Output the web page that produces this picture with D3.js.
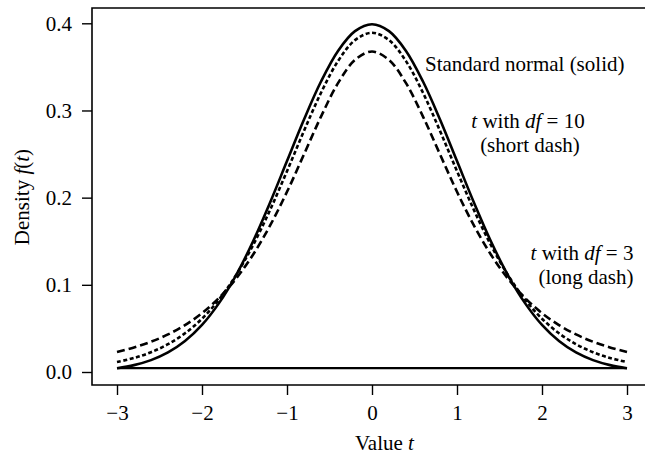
<!DOCTYPE html>
<html>
<head>
<meta charset="utf-8">
<script src="https://cdn.jsdelivr.net/npm/d3@7"></script>
<style>
    body { margin: 0; background: #fff; }
    svg text { font-family: "Liberation Serif", "Times New Roman", serif; fill: #000; }
</style>
</head>
<body>
<div id="density-graphic"></div>
<script>

/*********** DONNEES ***********/

let valeursT = [-3, -2.8, -2.6, -2.4, -2.2, -2, -1.8, -1.6, -1.4, -1.2, -1, -0.8, -0.6, -0.4, -0.2, 0,
    0.2, 0.4, 0.6, 0.8, 1, 1.2, 1.4, 1.6, 1.8, 2, 2.2, 2.4, 2.6, 2.8, 3]

// densite normale standard (trait plein)
let densiteNormale = [0.0044, 0.0079, 0.0136, 0.0224, 0.0355, 0.0540, 0.0790, 0.1109, 0.1497, 0.1942, 0.2420, 0.2897, 0.3332, 0.3683, 0.3910, 0.3989,
    0.3910, 0.3683, 0.3332, 0.2897, 0.2420, 0.1942, 0.1497, 0.1109, 0.0790, 0.0540, 0.0355, 0.0224, 0.0136, 0.0079, 0.0044]

// t avec df = 10 (tirets courts)
let densiteT10 = [0.0114, 0.0161, 0.0227, 0.0319, 0.0444, 0.0611, 0.0831, 0.1111, 0.1454, 0.1857, 0.2304, 0.2766, 0.3203, 0.3566, 0.3807, 0.3891,
    0.3807, 0.3566, 0.3203, 0.2766, 0.2304, 0.1857, 0.1454, 0.1111, 0.0831, 0.0611, 0.0444, 0.0319, 0.0227, 0.0161, 0.0114]

// t avec df = 3 (tirets longs)
let densiteT3 = [0.0230, 0.0282, 0.0347, 0.0431, 0.0538, 0.0675, 0.0850, 0.1070, 0.1345, 0.1678, 0.2067, 0.2497, 0.2930, 0.3313, 0.3580, 0.3676,
    0.3580, 0.3313, 0.2930, 0.2497, 0.2067, 0.1678, 0.1345, 0.1070, 0.0850, 0.0675, 0.0538, 0.0431, 0.0347, 0.0282, 0.0230]

// ligne horizontale du bas
let ligneBas = [{ t: -3, f: 0.0044 }, { t: 3, f: 0.0044 }]

let ticksX = [-3, -2, -1, 0, 1, 2, 3]
let labelsX = ["\u22123", "\u22122", "\u22121", "0", "1", "2", "3"]
let ticksY = [0, 0.1, 0.2, 0.3, 0.4]
let labelsY = ["0.0", "0.1", "0.2", "0.3", "0.4"]


/*********** GRAPHIQUE ***********/

let width = 645, height = 455
let taillePolice = "21px"

let svg = d3.select("#density-graphic")
    .append("svg")
    .attr("width", width)
    .attr("height", height)

var x = d3.scaleLinear().domain([-3, 3]).range([117, 627])
var y = d3.scaleLinear().domain([0, 0.4]).range([372, 23.3])

// cadre (le cote droit sort de l'image)
let cadreGauche = 92, cadreHaut = 8, cadreBas = 385
svg.append("path")
    .attr("d", "M" + width + "," + cadreHaut + "H" + cadreGauche + "V" + cadreBas + "H" + width)
    .attr("fill", "none")
    .attr("stroke", "#000")
    .attr("stroke-width", 1.6)

// axe X
let axeX = svg.append("g")
    .attr("transform", "translate(0," + cadreBas + ")")
    .call(d3.axisBottom(x).tickValues(ticksX).tickSize(10).tickPadding(10)
        .tickFormat(function (d, i) { return labelsX[i] }))
axeX.select(".domain").remove()

// axe Y
let axeY = svg.append("g")
    .attr("transform", "translate(" + cadreGauche + ",0)")
    .call(d3.axisLeft(y).tickValues(ticksY).tickSize(10).tickPadding(10)
        .tickFormat(function (d, i) { return labelsY[i] }))
axeY.select(".domain").remove()

svg.selectAll(".tick line").attr("stroke", "#000").attr("stroke-width", 1.4)
svg.selectAll(".tick text").style("font-size", taillePolice).attr("fill", "#000")

// titres des axes
svg.append("text")
    .attr("x", 355)
    .attr("y", 450)
    .attr("text-anchor", "start")
    .style("font-size", taillePolice)
    .html('Value <tspan font-style="italic">t</tspan>')

svg.append("text")
    .attr("transform", "translate(29,197) rotate(-90)")
    .attr("text-anchor", "middle")
    .style("font-size", taillePolice)
    .html('Density <tspan font-style="italic">f</tspan>(<tspan font-style="italic">t</tspan>)')

// courbes
function tracerCourbe(valeurs, dash) {
    let points = valeursT.map(function (t, i) { return { t: t, f: valeurs[i] } })
    let ligne = d3.line()
        .x(function (d) { return x(d.t) })
        .y(function (d) { return y(d.f) })
        .curve(d3.curveCatmullRom)
    svg.append("path")
        .datum(points)
        .attr("d", ligne)
        .attr("fill", "none")
        .attr("stroke", "#000")
        .attr("stroke-width", 2.6)
        .attr("stroke-dasharray", dash)
}

tracerCourbe(densiteT3, "8,4")
tracerCourbe(densiteT10, "4,2.5")
tracerCourbe(densiteNormale, null)

svg.append("path")
    .datum(ligneBas)
    .attr("d", d3.line().x(function (d) { return x(d.t) }).y(function (d) { return y(d.f) }))
    .attr("stroke", "#000")
    .attr("stroke-width", 2.2)

// legendes dans le graphique
function ajouterTexte(px, py, ancre, html) {
    svg.append("text")
        .attr("x", px)
        .attr("y", py)
        .attr("text-anchor", ancre)
        .style("font-size", taillePolice)
        .html(html)
}

ajouterTexte(425, 71, "start", "Standard normal (solid)")
ajouterTexte(528, 128, "middle", '<tspan font-style="italic">t</tspan> with <tspan font-style="italic">df</tspan> = 10')
ajouterTexte(530, 152, "middle", "(short dash)")
ajouterTexte(582, 260, "middle", '<tspan font-style="italic">t</tspan> with <tspan font-style="italic">df</tspan> = 3')
ajouterTexte(586, 284, "middle", "(long dash)")

</script>
</body>
</html>
